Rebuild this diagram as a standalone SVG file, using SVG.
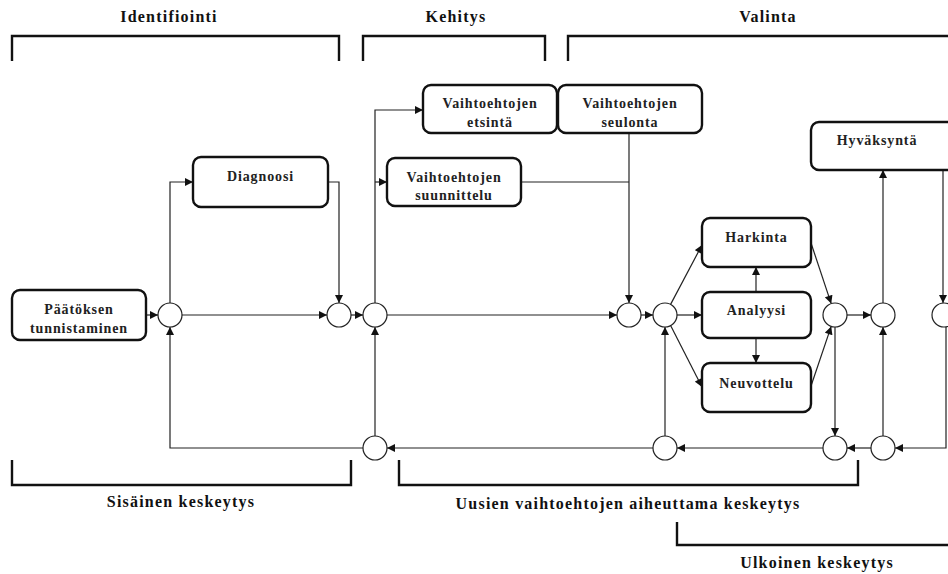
<svg xmlns="http://www.w3.org/2000/svg" width="948" height="574" viewBox="0 0 948 574">
  <style>
    .box { fill: #fff; stroke: #111; stroke-width: 2.4; }
    .node { fill: #fff; stroke: #222; stroke-width: 1.2; }
    .lbl { font-family: "Liberation Serif", "Times New Roman", serif; font-weight: bold; font-size: 14px; letter-spacing: 0.9px; fill: #222; text-anchor: middle; }
    .head { font-family: "Liberation Serif", "Times New Roman", serif; font-weight: bold; font-size: 16px; letter-spacing: 1.2px; fill: #111; text-anchor: middle; }
    .brk { fill: none; stroke: #111; stroke-width: 2.4; }
    .ln { fill: none; stroke: #222; stroke-width: 1.2; }
    .arr { marker-end: url(#ah); }
  </style>
  <defs>
    <marker id="ah" viewBox="0 0 10 10" refX="10" refY="5" markerWidth="9" markerHeight="8" markerUnits="userSpaceOnUse" orient="auto">
      <path d="M0,0 L10,5 L0,10 Z" fill="#111"/>
    </marker>
  </defs>

  <!-- phase headings and brackets -->
  <g id="phases">
    <text class="head" x="169" y="22">Identifiointi</text>
    <text class="head" x="456" y="22">Kehitys</text>
    <text class="head" x="768" y="22">Valinta</text>
    <path class="brk" d="M12,61 V36 H339 V61"/>
    <path class="brk" d="M363,61 V36 H545 V61"/>
    <path class="brk" d="M568,61 V36 H952"/>
  </g>

  <g id="interrupts">
    <path class="brk" d="M12,460 V485 H351 V460"/>
    <path class="brk" d="M399,460 V485 H858 V460"/>
    <path class="brk" d="M677,522 V545 H952"/>
    <text class="head" x="181" y="507">Sisäinen keskeytys</text>
    <text class="head" x="628" y="509">Uusien vaihtoehtojen aiheuttama keskeytys</text>
    <text class="head" x="817" y="568">Ulkoinen keskeytys</text>
  </g>

  <!-- connectors -->
  <g id="connectors">
    <path class="ln arr" d="M146,315 H158"/>
    <path class="ln arr" d="M182,315 H327"/>
    <path class="ln arr" d="M170,303 V182 H193"/>
    <path class="ln arr" d="M328,182 H339 V303"/>
    <path class="ln arr" d="M351,315 H363"/>
    <path class="ln arr" d="M375,303 V110 H423"/>
    <path class="ln arr" d="M375,182 H387"/>
    <path class="ln arr" d="M387,315 H617"/>
    <path class="ln" d="M521,182 H629"/>
    <path class="ln arr" d="M629,133 V303"/>
    <path class="ln arr" d="M641,315 H653"/>
    <path class="ln arr" d="M677,315 H702"/>
    <path class="ln arr" d="M670.6,304.4 L702,245"/>
    <path class="ln arr" d="M670.6,325.6 L702,387"/>
    <path class="ln arr" d="M756,292 V267"/>
    <path class="ln arr" d="M756,338 V363"/>
    <path class="ln arr" d="M811,243 L831.2,303.6"/>
    <path class="ln arr" d="M811,386 L831.2,326.4"/>
    <path class="ln arr" d="M835,327 V436"/>
    <path class="ln arr" d="M847,315 H871"/>
    <path class="ln arr" d="M883,303 V170"/>
    <path class="ln arr" d="M943,170 V303"/>
    <path class="ln arr" d="M946,327 V448 H895"/>
    <path class="ln arr" d="M883,436 V327"/>
    <path class="ln arr" d="M871,448 H847"/>
    <path class="ln arr" d="M823,448 H677"/>
    <path class="ln arr" d="M665,436 V327"/>
    <path class="ln arr" d="M653,448 H387"/>
    <path class="ln arr" d="M375,436 V327"/>
    <path class="ln arr" d="M363,448 H170 V327"/>
  </g>

  <!-- process steps -->
  <g id="paatoksen-tunnistaminen">
    <rect class="box" x="12" y="290" width="134" height="50" rx="8"/>
    <text class="lbl" x="79" y="314">Päätöksen</text>
    <text class="lbl" x="79" y="333">tunnistaminen</text>
  </g>
  <g id="diagnoosi">
    <rect class="box" x="193" y="157" width="135" height="50" rx="8"/>
    <text class="lbl" x="260.5" y="181">Diagnoosi</text>
  </g>
  <g id="etsinta">
    <rect class="box" x="423" y="85" width="134" height="48" rx="8"/>
    <text class="lbl" x="490" y="108">Vaihtoehtojen</text>
    <text class="lbl" x="490" y="127">etsintä</text>
  </g>
  <g id="seulonta">
    <rect class="box" x="558" y="85" width="144" height="48" rx="8"/>
    <text class="lbl" x="630" y="108">Vaihtoehtojen</text>
    <text class="lbl" x="630" y="127">seulonta</text>
  </g>
  <g id="suunnittelu">
    <rect class="box" x="387" y="158" width="134" height="48" rx="8"/>
    <text class="lbl" x="454" y="182">Vaihtoehtojen</text>
    <text class="lbl" x="454" y="200">suunnittelu</text>
  </g>
  <g id="harkinta">
    <rect class="box" x="702" y="218" width="109" height="49" rx="8"/>
    <text class="lbl" x="756.5" y="242">Harkinta</text>
  </g>
  <g id="analyysi">
    <rect class="box" x="702" y="292" width="109" height="46" rx="8"/>
    <text class="lbl" x="756.5" y="315">Analyysi</text>
  </g>
  <g id="neuvottelu">
    <rect class="box" x="702" y="363" width="109" height="49" rx="8"/>
    <text class="lbl" x="756.5" y="388">Neuvottelu</text>
  </g>
  <g id="hyvaksynta">
    <rect class="box" x="811" y="122" width="150" height="48" rx="8"/>
    <text class="lbl" x="877" y="145">Hyväksyntä</text>
  </g>

  <!-- junctions -->
  <g id="j1"><circle class="node" cx="170" cy="315" r="12"/></g>
  <g id="j2"><circle class="node" cx="339" cy="315" r="12"/></g>
  <g id="j3"><circle class="node" cx="375" cy="315" r="12"/></g>
  <g id="j4"><circle class="node" cx="629" cy="315" r="12"/></g>
  <g id="j5"><circle class="node" cx="665" cy="315" r="12"/></g>
  <g id="j6"><circle class="node" cx="835" cy="315" r="12"/></g>
  <g id="j7"><circle class="node" cx="883" cy="315" r="12"/></g>
  <g id="j8"><circle class="node" cx="944" cy="315" r="12"/></g>
  <g id="j9"><circle class="node" cx="375" cy="448" r="12"/></g>
  <g id="j10"><circle class="node" cx="665" cy="448" r="12"/></g>
  <g id="j11"><circle class="node" cx="835" cy="448" r="12"/></g>
  <g id="j12"><circle class="node" cx="883" cy="448" r="12"/></g>
</svg>
